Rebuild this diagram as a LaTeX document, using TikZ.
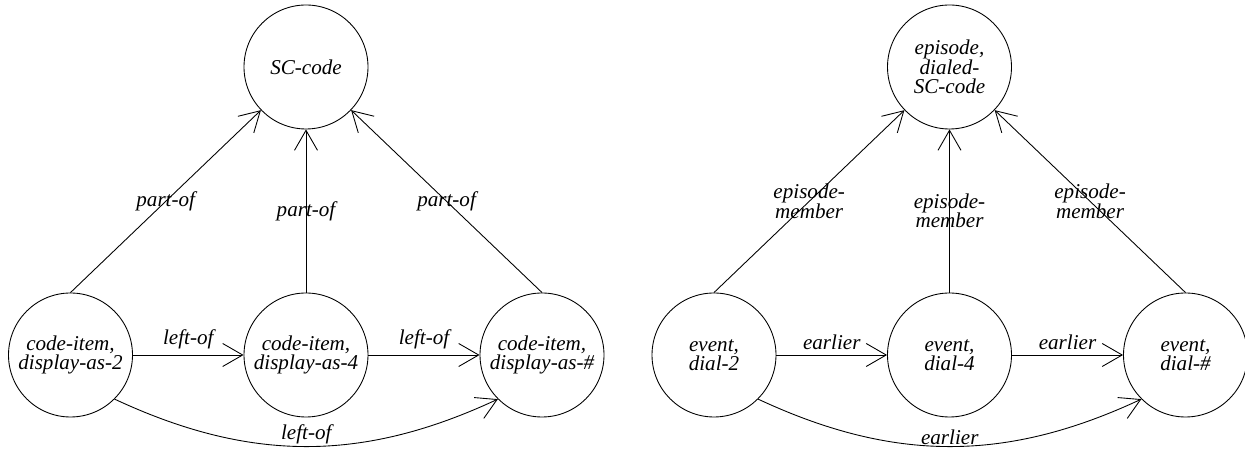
\documentclass[tikz,border=0pt]{standalone}
\usepackage{fontspec}
\setmainfont{Liberation Serif}
\usetikzlibrary{arrows.meta}

\begin{document}
\begin{tikzpicture}[
  cnode/.style={circle, draw, minimum size=24.8mm, inner sep=0pt, align=center},
  rel/.style={-{Straight Barb[length=4mm, width=4.6mm]}},
  lbl/.style={align=center, inner sep=1pt},
  font=\itshape\fontsize{12}{11}\selectfont,
  line width=0.5pt
]
  \useasboundingbox (0,0) rectangle (24.9,9.04);

  % code items
  \begin{scope}[shift={(0,0)}]
    \node[cnode] (sc) at (6.12, 7.70) {SC-code};
    \node[cnode] (c2) at (1.41, 1.94) {code-item,\\display-as-2};
    \node[cnode] (c4) at (6.12, 1.94) {code-item,\\display-as-4};
    \node[cnode] (ch) at (10.84, 1.94) {code-item,\\display-as-\#};
    \draw[rel] (c2.north) -- node[lbl] {part-of} (sc);
    \draw[rel] (c4.north) -- node[lbl] {part-of} (sc);
    \draw[rel] (ch.north) -- node[lbl] {part-of} (sc);
    \draw[rel] (c2) -- node[lbl, above=2pt] {left-of} (c4);
    \draw[rel] (c4) -- node[lbl, above=2pt] {left-of} (ch);
    \draw[rel] (c2.south east) to[bend right=25] node[lbl, above] {left-of} (ch.south west);
  \end{scope}

  % events
  \begin{scope}[shift={(12.87,0)}]
    \node[cnode] (ep) at (6.12, 7.70) {episode,\\dialed-\\SC-code};
    \node[cnode] (e2) at (1.41, 1.94) {event,\\dial-2};
    \node[cnode] (e4) at (6.12, 1.94) {event,\\dial-4};
    \node[cnode] (eh) at (10.84, 1.94) {event,\\dial-\#};
    \draw[rel] (e2.north) -- node[lbl] {episode-\\member} (ep);
    \draw[rel] (e4.north) -- node[lbl] {episode-\\member} (ep);
    \draw[rel] (eh.north) -- node[lbl] {episode-\\member} (ep);
    \draw[rel] (e2) -- node[lbl, above=2pt] {earlier} (e4);
    \draw[rel] (e4) -- node[lbl, above=2pt] {earlier} (eh);
    \draw[rel] (e2.south east) to[bend right=25] node[lbl, above] {earlier} (eh.south west);
  \end{scope}
\end{tikzpicture}
\end{document}
